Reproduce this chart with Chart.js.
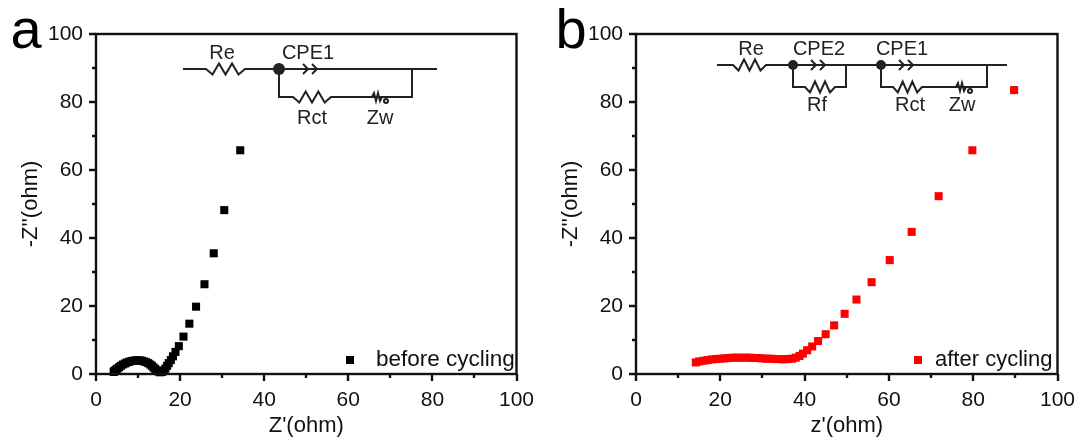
<!DOCTYPE html>
<html>
<head>
<meta charset="utf-8">
<style>
html, body { margin: 0; padding: 0; background: #fff; }
canvas { position: absolute; top: 0; }
</style>
<script src="https://cdn.jsdelivr.net/npm/chart.js@4/dist/chart.umd.min.js"></script>
</head>
<body>
<canvas id="chartA" width="540" height="439" style="left:0"></canvas>
<canvas id="chartB" width="540" height="439" style="left:540px"></canvas>
<script>
var beforeX = [34.3, 30.5, 28.0, 25.8, 23.8, 22.2, 20.8, 19.7, 18.9, 18.3, 17.8, 17.3, 16.9, 16.5, 16.1, 15.7, 15.3, 14.9, 14.5, 14.1, 13.7, 13.3, 12.9, 12.4, 11.9, 11.4, 10.9, 10.4, 9.9, 9.4, 8.9, 8.4, 7.9, 7.4, 6.9, 6.4, 5.9, 5.5, 5.1, 4.8, 4.5, 4.3, 4.2];
var beforeY = [65.8, 48.2, 35.5, 26.4, 19.8, 14.8, 11.0, 8.2, 6.5, 5.2, 4.1, 3.2, 2.4, 1.6, 1.0, 0.6, 0.5, 0.7, 1.0, 1.5, 1.9, 2.4, 2.8, 3.2, 3.5, 3.7, 3.9, 4.0, 4.0, 4.0, 3.9, 3.8, 3.6, 3.4, 3.1, 2.8, 2.4, 2.0, 1.6, 1.3, 1.0, 0.8, 0.6];
var afterX = [89.7, 79.8, 71.8, 65.4, 60.2, 55.9, 52.3, 49.5, 47.0, 45.0, 43.2, 41.8, 40.6, 39.6, 38.8, 37.9, 37.0, 36.0, 35.0, 34.0, 33.0, 32.0, 31.0, 30.0, 29.0, 28.0, 27.0, 26.0, 25.0, 24.0, 23.0, 22.0, 21.0, 20.0, 19.0, 18.0, 17.0, 16.0, 15.0, 14.2];
var afterY = [83.5, 65.8, 52.3, 41.8, 33.5, 27.0, 21.9, 17.7, 14.3, 11.7, 9.7, 8.1, 7.0, 6.0, 5.3, 4.8, 4.5, 4.4, 4.3, 4.4, 4.4, 4.5, 4.5, 4.6, 4.7, 4.7, 4.8, 4.8, 4.8, 4.8, 4.8, 4.7, 4.6, 4.5, 4.4, 4.3, 4.1, 3.9, 3.7, 3.4];
var axisTicks = [0, 10, 20, 30, 40, 50, 60, 70, 80, 90, 100];

var FONT = '"Liberation Sans", Arial, sans-serif';
var INK = '#111';

// left/bottom ticks and the box, drawn from the scales
var framePlugin = {
    id: 'frame',
    afterDatasetsDraw: function(chart) {
        var c = chart.ctx, a = chart.chartArea;
        var xs = chart.scales.x, ys = chart.scales.y;
        c.save();
        c.strokeStyle = INK;
        c.lineWidth = 2.4;
        c.strokeRect(a.left, a.top, a.right - a.left, a.bottom - a.top);
        axisTicks.forEach(function(v) {
            var len = v % 20 === 0 ? 7 : 4;
            var px = Math.round(xs.getPixelForValue(v));
            var py = Math.round(ys.getPixelForValue(v));
            c.beginPath();
            c.moveTo(px, a.bottom);
            c.lineTo(px, a.bottom + len);
            c.moveTo(a.left, py);
            c.lineTo(a.left - len, py);
            c.stroke();
        });
        c.restore();
    }
};

// resistor zigzag between two x positions at height y
function zigzag(c, x0, x1, y) {
    var n = 6, step = (x1 - x0) / n;
    c.lineTo(x0, y);
    for (var i = 0; i < n; i++) {
        var dy = i === n - 1 ? 0 : (i % 2 === 0 ? 5.5 : -5.5);
        c.lineTo(x0 + step * (i + 1), y + dy);
    }
}

// constant phase element: two small chevrons
function chevrons(c, x, y) {
    c.moveTo(x, y - 5);
    c.lineTo(x + 5, y);
    c.lineTo(x, y + 5);
    c.moveTo(x + 9, y - 5);
    c.lineTo(x + 14, y);
    c.lineTo(x + 9, y + 5);
}

function warburg(c, x, y) {
    c.moveTo(x, y);
    c.lineTo(x + 2, y - 4);
    c.lineTo(x + 4, y + 4);
    c.lineTo(x + 6, y - 4);
    c.lineTo(x + 8, y + 4);
    c.lineTo(x + 10, y);
    c.moveTo(x + 16, y + 4);
    c.arc(x + 14, y + 4, 2, 0, Math.PI * 2);
}

function label(c, text, x, y) {
    c.fillText(text, x, y);
}

function circuitA(c) {
    var top = 69, low = 97;
    c.beginPath();
    c.moveTo(183, top);
    zigzag(c, 206, 245, top);
    c.lineTo(437, top);
    c.moveTo(279, top);
    c.lineTo(279, low);
    zigzag(c, 293, 331, low);
    c.lineTo(412, low);
    c.lineTo(412, top);
    c.stroke();
    c.beginPath();
    chevrons(c, 303, top);
    warburg(c, 372, low);
    c.stroke();
    c.beginPath();
    c.arc(279, top, 6, 0, Math.PI * 2);
    c.fill();
    label(c, 'Re', 222, 59);
    label(c, 'CPE1', 308, 59);
    label(c, 'Rct', 312, 124);
    label(c, 'Zw', 380, 124);
}

function circuitB(c) {
    var top = 65, low = 87;
    c.beginPath();
    c.moveTo(177, top);
    zigzag(c, 193, 226, top);
    c.lineTo(467, top);
    c.moveTo(253, top);
    c.lineTo(253, low);
    zigzag(c, 265, 295, low);
    c.lineTo(306, low);
    c.lineTo(306, top);
    c.moveTo(341, top);
    c.lineTo(341, low);
    zigzag(c, 353, 382, low);
    c.lineTo(447, low);
    c.lineTo(447, top);
    c.stroke();
    c.beginPath();
    chevrons(c, 271, top);
    chevrons(c, 359, top);
    warburg(c, 416, low);
    c.stroke();
    c.beginPath();
    c.arc(253, top, 5, 0, Math.PI * 2);
    c.moveTo(346, top);
    c.arc(341, top, 5, 0, Math.PI * 2);
    c.fill();
    label(c, 'Re', 211, 55);
    label(c, 'CPE2', 279, 55);
    label(c, 'CPE1', 362, 55);
    label(c, 'Rf', 277, 111);
    label(c, 'Rct', 370, 111);
    label(c, 'Zw', 422, 111);
}

// panel letter, legend and circuit sketch
var notesPlugin = {
    id: 'notes',
    afterDraw: function(chart, args, opts) {
        var c = chart.ctx;
        c.save();
        c.fillStyle = '#000';
        c.textAlign = 'center';
        c.textBaseline = 'alphabetic';
        c.font = '56px ' + FONT;
        c.fillText(opts.letter, opts.letterX, 48);
        c.fillStyle = opts.keyColor;
        c.fillRect(opts.keyX - 4, 356, 8, 8);
        c.fillStyle = INK;
        c.textAlign = 'left';
        c.font = opts.legendSize + 'px ' + FONT;
        c.fillText(opts.legend, opts.textX, 366);
        c.strokeStyle = '#222';
        c.fillStyle = '#222';
        c.lineWidth = 2;
        c.font = '20px ' + FONT;
        c.textAlign = 'center';
        opts.circuit(c);
        c.restore();
    }
};

function makeChart(id, xs, ys, color, xTitle, notes, yWidth) {
    var points = xs.map(function(x, i) { return {x: x, y: ys[i]}; });
    return new Chart(document.getElementById(id), {
        type: 'scatter',
        data: {
            datasets: [{
                label: notes.legend,
                data: points,
                pointStyle: 'rect',
                pointRadius: 5.7,
                pointHoverRadius: 5.7,
                backgroundColor: color,
                borderColor: color,
                borderWidth: 0,
                clip: false
            }]
        },
        options: {
            responsive: false,
            animation: false,
            layout: {padding: {top: 34, right: notes.right, left: 18, bottom: 0}},
            plugins: {legend: {display: false}, tooltip: {enabled: false}, notes: notes},
            scales: {
                x: {
                    type: 'linear', min: 0, max: 100,
                    grid: {display: false},
                    border: {display: false},
                    afterBuildTicks: function(s) { s.ticks = axisTicks.map(function(v) { return {value: v}; }); },
                    ticks: {
                        autoSkip: false, maxRotation: 0, color: INK, padding: 6,
                        font: {family: FONT, size: 21},
                        callback: function(v) { return v % 20 === 0 ? v : ''; }
                    },
                    title: {display: true, text: xTitle, color: INK, font: {family: FONT, size: 22}, padding: {top: 2, bottom: 0}},
                    afterFit: function(s) { s.height = 65; s.paddingRight = 0; s.paddingLeft = 0; }
                },
                y: {
                    type: 'linear', min: 0, max: 100,
                    grid: {display: false},
                    border: {display: false},
                    afterBuildTicks: function(s) { s.ticks = axisTicks.map(function(v) { return {value: v}; }); },
                    ticks: {
                        autoSkip: false, color: INK, padding: 5,
                        font: {family: FONT, size: 21},
                        callback: function(v) { return v % 20 === 0 ? v : ''; }
                    },
                    title: {display: true, text: "-Z''(ohm)", color: INK, font: {family: FONT, size: 22}, padding: {top: 0, bottom: 4}},
                    afterFit: function(s) { s.width = yWidth - 18; }
                }
            }
        },
        plugins: [framePlugin, notesPlugin]
    });
}

makeChart('chartA', beforeX, beforeY, '#000', "Z'(ohm)", {
    letter: 'a', letterX: 26, legend: 'before cycling', keyColor: '#000', keyX: 350, textX: 376, legendSize: 22.5, right: 23.5, circuit: circuitA
}, 96);
makeChart('chartB', afterX, afterY, '#f00', "z'(ohm)", {
    letter: 'b', letterX: 31, legend: 'after cycling', keyColor: '#f00', keyX: 378, textX: 395, legendSize: 22, right: 22.5, circuit: circuitB
}, 96);
</script>
</body>
</html>
